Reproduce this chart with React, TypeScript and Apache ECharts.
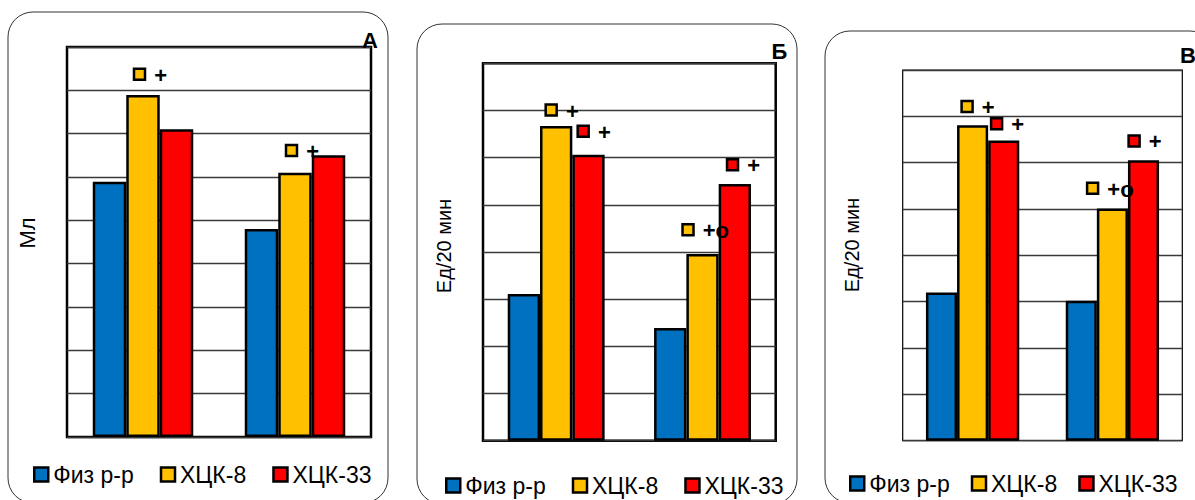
import React, { useEffect, useRef } from 'react';
import * as echarts from 'echarts';

// ---------- data ----------
const categories = ['1', '2'];
const seriesNames = ['Физ р-р', 'ХЦК-8', 'ХЦК-33'];
const panelLetters = ['А', 'Б', 'В'];
const axisNames = ['Мл', 'Ед/20 мин', 'Ед/20 мин'];
const panelMax = [9, 8, 8];

const fizA = [5.89, 4.8];
const x8A = [7.89, 6.1];
const x33A = [7.1, 6.5];

const fizB = [3.11, 2.39];
const x8B = [6.67, 3.96];
const x33B = [6.06, 5.44];

const fizV = [3.2, 3.02];
const x8V = [6.81, 5.01];
const x33V = [6.48, 6.05];

// significance marks: category, height (axis units), series colour index, text
const marksA = [
  { cat: 0, value: 8.37, s: 1, text: '+' },
  { cat: 1, value: 6.61, s: 1, text: '+' },
];
const marksB = [
  { cat: 0, value: 7.01, s: 1, text: '+' },
  { cat: 0, value: 6.56, s: 2, text: '+' },
  { cat: 1, value: 5.85, s: 2, text: '+' },
  { cat: 1, value: 4.47, s: 1, text: '+o' },
];
const marksV = [
  { cat: 0, value: 7.21, s: 1, text: '+' },
  { cat: 0, value: 6.84, s: 2, text: '+' },
  { cat: 1, value: 6.47, s: 2, text: '+' },
  { cat: 1, value: 5.45, s: 1, text: '+o' },
];

// ---------- styles / layout ----------
const colors = ['#0070C0', '#FFC000', '#FF0000'];
const FONT = '"Liberation Sans", Arial, sans-serif';

const panels = [
  {
    data: [fizA, x8A, x33A],
    marks: marksA,
    markOffsets: [-3.5, -3.5],
    grid: { left: 67, top: 47, width: 304, height: 390 },
    gridBorder: 2.5,
    barWidth: 33.5,
    frame: { x: 8, y: 12, w: 380, h: 491 },
    letter: { x: 370, y: 40 },
    yName: { x: 27, y: 233, size: 22 },
    legend: { left: 28, top: 458, gap: 26 },
  },
  {
    data: [fizB, x8B, x33B],
    marks: marksB,
    markOffsets: [-5, 27, 30, -14.5],
    grid: { left: 483, top: 63.3, width: 292.7, height: 377.4 },
    gridBorder: 2.5,
    barWidth: 32.3,
    frame: { x: 417, y: 24, w: 380, h: 480 },
    letter: { x: 779.5, y: 51 },
    yName: { x: 444, y: 246, size: 20 },
    legend: { left: 440, top: 469, gap: 26 },
  },
  {
    data: [fizV, x8V, x33V],
    marks: marksV,
    markOffsets: [-5.5, 24, 21.7, -19.8],
    grid: { left: 902.7, top: 70, width: 279.6, height: 370.7 },
    gridBorder: 1.2,
    barWidth: 31.1,
    frame: { x: 825, y: 31, w: 390, h: 472 },
    letter: { x: 1188, y: 55 },
    yName: { x: 852, y: 245, size: 20 },
    legend: { left: 844, top: 467, gap: 21 },
  },
];

export default function App() {
  const ref = useRef<HTMLDivElement>(null);

  useEffect(() => {
    if (!ref.current) return;
    const chart = echarts.init(ref.current, undefined, { renderer: 'svg' });

    const grid: any[] = [];
    const xAxis: any[] = [];
    const yAxis: any[] = [];
    const series: any[] = [];
    const legend: any[] = [];
    const graphic: any[] = [];

    panels.forEach((p, i) => {
      grid.push({
        ...p.grid,
        show: true,
        borderColor: '#000',
        borderWidth: p.gridBorder,
      });
      xAxis.push({
        type: 'category',
        gridIndex: i,
        data: categories,
        axisLabel: { show: false },
        axisTick: { show: false },
        axisLine: { show: false },
        splitLine: { show: false },
      });
      yAxis.push({
        type: 'value',
        gridIndex: i,
        min: 0,
        max: panelMax[i],
        interval: 1,
        axisLabel: { show: false },
        axisTick: { show: false },
        axisLine: { show: false },
        splitLine: { show: true, lineStyle: { color: '#3a3a3a', width: 1.3 } },
      });
      p.data.forEach((vals, s) => {
        series.push({
          type: 'bar',
          name: seriesNames[s],
          xAxisIndex: i,
          yAxisIndex: i,
          data: vals,
          barWidth: p.barWidth,
          barGap: '0%',
          itemStyle: { color: colors[s], borderColor: '#000', borderWidth: 2.5 },
        });
      });
      p.marks.forEach((m, k) => {
        series.push({
          type: 'scatter',
          name: 'mark' + i + '_' + k,
          xAxisIndex: i,
          yAxisIndex: i,
          data: [[m.cat, m.value]],
          symbol: 'rect',
          symbolSize: 11,
          symbolOffset: [p.markOffsets[k], 0],
          itemStyle: { color: colors[m.s], borderColor: '#000', borderWidth: 2.5, opacity: 1 },
          label: {
            show: true,
            formatter: m.text,
            position: 'right',
            distance: 8,
            offset: [0, 1],
            fontFamily: FONT,
            fontSize: 22,
            fontWeight: 'bold',
            color: '#000',
          },
          z: 5,
          silent: true,
        });
      });
      legend.push({
        data: seriesNames,
        left: p.legend.left,
        top: p.legend.top,
        orient: 'horizontal',
        icon: 'rect',
        itemWidth: 14,
        itemHeight: 14,
        itemGap: p.legend.gap,
        selectedMode: false,
        itemStyle: { borderColor: '#000', borderWidth: 2.5 },
        textStyle: { fontFamily: FONT, fontSize: 23, color: '#000' },
      });
      graphic.push({
        type: 'rect',
        shape: { x: p.frame.x, y: p.frame.y, width: p.frame.w, height: p.frame.h, r: 25 },
        style: { fill: 'none', stroke: '#333', lineWidth: 1 },
        z: -10,
        silent: true,
      });
      graphic.push({
        type: 'text',
        x: p.letter.x,
        y: p.letter.y,
        style: {
          text: panelLetters[i],
          font: 'bold 22px ' + FONT,
          fill: '#000',
          align: 'center',
          verticalAlign: 'middle',
        },
        z: 10,
      });
      graphic.push({
        type: 'text',
        x: p.yName.x,
        y: p.yName.y,
        rotation: Math.PI / 2,
        style: {
          text: axisNames[i],
          font: p.yName.size + 'px ' + FONT,
          fill: '#000',
          align: 'center',
          verticalAlign: 'middle',
        },
        z: 10,
      });
    });

    chart.setOption({
      animation: false,
      backgroundColor: '#fff',
      grid,
      xAxis,
      yAxis,
      series,
      legend,
      graphic,
    });

    return () => chart.dispose();
  }, []);

  return (
    <div
      ref={ref}
      style={{ position: 'absolute', left: 0, top: 0, width: 1195, height: 500 }}
    />
  );
}
